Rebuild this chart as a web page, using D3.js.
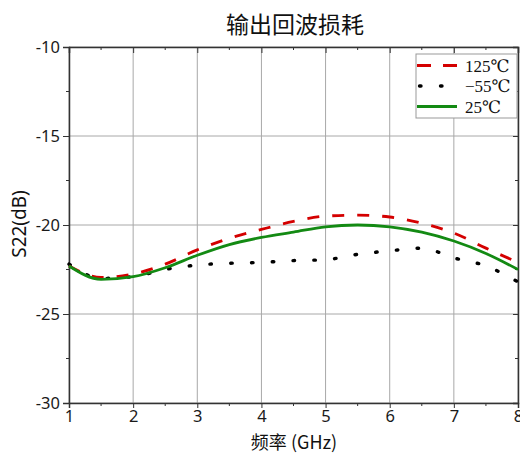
<!DOCTYPE html>
<html>
<head>
<meta charset="utf-8">
<script src="https://cdn.jsdelivr.net/npm/d3@7"></script>
<style>
  body { margin: 0; background: #fff; }
</style>
</head>
<body>
<div id="chart"></div>
<script>
// frequency points (GHz)
const freq = [1, 1.5, 2, 2.5, 3, 3.5, 4, 4.5, 5, 5.5, 6, 6.5, 7, 7.5, 8];
// S22 values (dB)
const s125 = [-22.3, -22.95, -22.75, -22.2, -21.4, -20.75, -20.25, -19.8, -19.5, -19.45, -19.55, -19.9, -20.45, -21.3, -22.1];
const sM55 = [-22.2, -23.0, -22.9, -22.5, -22.25, -22.15, -22.1, -22.0, -21.95, -21.65, -21.45, -21.3, -21.85, -22.3, -23.2];
const s25  = [-22.3, -23.05, -22.9, -22.4, -21.7, -21.1, -20.7, -20.4, -20.1, -20.0, -20.1, -20.4, -20.9, -21.6, -22.5];

const xTicks = [1, 2, 3, 4, 5, 6, 7, 8];
const yTicks = [-10, -15, -20, -25, -30];
const seriesNames = ["125℃", "−55℃", "25℃"];

const width = 520, height = 454;
const margin = {top: 47, right: 2, bottom: 51, left: 69};

const svg = d3.select("#chart").append("svg")
    .attr("width", width)
    .attr("height", height);

const x = d3.scaleLinear().domain([1, 8]).range([margin.left, width - margin.right]);
const y = d3.scaleLinear().domain([-30, -10]).range([height - margin.bottom, margin.top]);

// grid
svg.append("g").selectAll("line")
    .data(xTicks)
    .enter().append("line")
    .attr("x1", d => x(d)).attr("x2", d => x(d))
    .attr("y1", y(-10)).attr("y2", y(-30))
    .attr("stroke", "#a8a8a8").attr("stroke-width", 1);

svg.append("g").selectAll("line")
    .data(yTicks)
    .enter().append("line")
    .attr("x1", x(1)).attr("x2", x(8))
    .attr("y1", d => y(d)).attr("y2", d => y(d))
    .attr("stroke", "#a8a8a8").attr("stroke-width", 1);

// axes
const minorX = d3.range(1.5, 8, 1);
const minorY = d3.range(-27.5, -10, 5);

const axBottom = svg.append("g")
    .attr("transform", `translate(0,${y(-30)})`)
    .call(d3.axisBottom(x).tickValues(xTicks).tickFormat(d3.format("d")).tickSizeOuter(0).tickSize(5).tickPadding(2));
axBottom.append("g").selectAll("line").data(minorX).enter().append("line")
    .attr("x1", d => x(d)).attr("x2", d => x(d)).attr("y1", 0).attr("y2", 3).attr("stroke", "#333");

const axLeft = svg.append("g")
    .attr("transform", `translate(${x(1)},0)`)
    .call(d3.axisLeft(y).tickValues(yTicks).tickFormat(d => d3.format("d")(d).replace("−", "-")).tickSizeOuter(0).tickSize(6).tickPadding(3));
axLeft.append("g").selectAll("line").data(minorY).enter().append("line")
    .attr("y1", d => y(d)).attr("y2", d => y(d)).attr("x1", 0).attr("x2", -3).attr("stroke", "#333");

const axTop = svg.append("g")
    .attr("transform", `translate(0,${y(-10)})`)
    .call(d3.axisTop(x).tickValues(xTicks).tickFormat("").tickSizeOuter(0).tickSize(-6));
axTop.append("g").selectAll("line").data(minorX).enter().append("line")
    .attr("x1", d => x(d)).attr("x2", d => x(d)).attr("y1", 0).attr("y2", 3).attr("stroke", "#333");

const axRight = svg.append("g")
    .attr("transform", `translate(${x(8)},0)`)
    .call(d3.axisRight(y).tickValues(yTicks).tickFormat("").tickSizeOuter(0).tickSize(-5));
axRight.append("g").selectAll("line").data(minorY).enter().append("line")
    .attr("y1", d => y(d)).attr("y2", d => y(d)).attr("x1", 0).attr("x2", -3).attr("stroke", "#333");

svg.selectAll(".domain").attr("stroke", "#333").attr("stroke-width", 1.5);
svg.selectAll(".tick line").attr("stroke", "#333");
svg.selectAll(".tick text")
    .style("font-family", "'Noto Sans', sans-serif")
    .style("font-size", "16.5px")
    .attr("fill", "#1a1a1a");

// curves
const line = d3.line()
    .x((d, i) => x(freq[i]))
    .y(d => y(d))
    .curve(d3.curveMonotoneX);

svg.append("path").datum(sM55)
    .attr("d", line).attr("fill", "none")
    .attr("stroke", "#000").attr("stroke-width", 3.4)
    .attr("stroke-linecap", "round")
    .attr("stroke-dasharray", "1.5,19.3");

svg.append("path").datum(s125)
    .attr("d", line).attr("fill", "none")
    .attr("stroke", "#d40000").attr("stroke-width", 2.8)
    .attr("stroke-dasharray", "12,13");

svg.append("path").datum(s25)
    .attr("d", line).attr("fill", "none")
    .attr("stroke", "#138a13").attr("stroke-width", 2.8);

// legend
const legend = svg.append("g").attr("transform", "translate(416,54)");
legend.append("rect")
    .attr("width", 101).attr("height", 64)
    .attr("fill", "#fff").attr("stroke", "#999").attr("stroke-width", 1);

const styles = [
    {color: "#d40000", dash: "14,12", w: 2.8, cap: "butt", x1: 1},
    {color: "#000", dash: "1.5,19.5", w: 3.4, cap: "round", x1: 3.5},
    {color: "#138a13", dash: null, w: 2.8, cap: "butt", x1: 1}
];

seriesNames.forEach((name, i) => {
    const yy = 11.5 + i * 20.5;
    legend.append("line")
        .attr("x1", styles[i].x1).attr("x2", 41)
        .attr("y1", yy).attr("y2", yy)
        .attr("stroke", styles[i].color)
        .attr("stroke-width", styles[i].w)
        .attr("stroke-linecap", styles[i].cap)
        .attr("stroke-dasharray", styles[i].dash);
    legend.append("text")
        .attr("x", 49).attr("y", yy + 6)
        .style("font-family", "'Liberation Serif', 'DejaVu Serif', serif")
        .style("font-size", "17px")
        .attr("fill", "#111")
        .text(name);
});

// titles
svg.append("text")
    .attr("x", 295).attr("y", 33)
    .attr("text-anchor", "middle")
    .style("font-family", "'Noto Sans CJK SC', sans-serif")
    .style("font-size", "23px")
    .attr("fill", "#111")
    .text("输出回波损耗");

svg.append("text")
    .attr("x", 294).attr("y", 449)
    .attr("text-anchor", "middle")
    .style("font-family", "'Noto Sans CJK SC', sans-serif")
    .style("font-size", "18px")
    .attr("fill", "#111")
    .text("频率 (GHz)");

svg.append("text")
    .attr("transform", "translate(26,224) rotate(-90)")
    .attr("text-anchor", "middle")
    .style("font-family", "'Noto Sans', sans-serif")
    .style("font-size", "19px")
    .attr("fill", "#111")
    .text("S22(dB)");
</script>
</body>
</html>
